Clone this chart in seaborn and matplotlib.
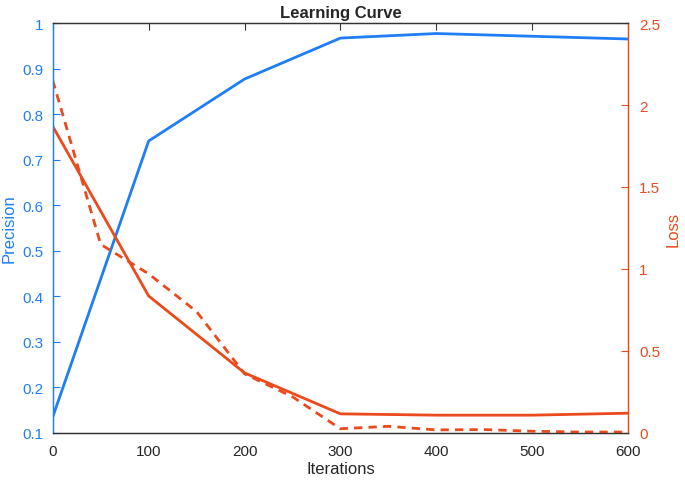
import numpy as np
import pandas as pd
import matplotlib
matplotlib.use('Agg')
import matplotlib.pyplot as plt
import seaborn as sns

# Data
iters = [0, 100, 200, 300, 400, 500, 600]
precision = [0.135, 0.741, 0.877, 0.967, 0.977, 0.971, 0.965]
loss = [1.87, 0.835, 0.366, 0.116, 0.108, 0.108, 0.12]

iters_fine = [0, 50, 100, 150, 200, 250, 300, 350, 400, 450, 500, 550, 600]
loss_fine = [2.15, 1.15, 0.97, 0.74, 0.36, 0.22, 0.025, 0.04, 0.018, 0.02, 0.01, 0.005, 0.005]

blue = '#1f7ef5'
red = '#ea4a1c'

sns.set_style("white")
plt.rcParams['font.family'] = ['Liberation Sans', 'DejaVu Sans']
plt.rcParams['xtick.direction'] = 'in'
plt.rcParams['ytick.direction'] = 'in'

df = pd.DataFrame({'iter': iters, 'precision': precision, 'loss': loss})
df_fine = pd.DataFrame({'iter': iters_fine, 'loss': loss_fine})

fig, ax = plt.subplots(figsize=(6.85, 4.81), dpi=100)
fig.subplots_adjust(left=0.077, right=0.917, top=0.95, bottom=0.098)

sns.lineplot(data=df, x='iter', y='precision', color=blue, linewidth=2, ax=ax)
ax.set_xlim(0, 600)
ax.set_ylim(0.1, 1)
ax.set_xticks(range(0, 601, 100))
ax.set_yticks(np.arange(0.1, 1.01, 0.1))
ax.set_yticklabels(['0.1', '0.2', '0.3', '0.4', '0.5', '0.6', '0.7', '0.8', '0.9', '1'])
ax.set_xlabel('Iterations', fontsize=12, labelpad=2)
ax.set_ylabel('Precision', fontsize=12, color=blue, labelpad=4)
ax.tick_params(axis='y', colors=blue, labelsize=11, length=5, pad=7)
ax.tick_params(axis='x', labelsize=11, length=5, top=True, color='#333333', pad=8)
ax.set_title('Learning Curve', fontsize=12, fontweight='bold', pad=4)

ax2 = ax.twinx()
sns.lineplot(data=df, x='iter', y='loss', color=red, linewidth=2, ax=ax2)
sns.lineplot(data=df_fine, x='iter', y='loss', color=red, linewidth=2, ax=ax2)
ax2.lines[-1].set_dashes((3, 2.2))
ax2.set_ylim(0, 2.5)
ax2.set_yticks([0, 0.5, 1, 1.5, 2, 2.5])
ax2.set_yticklabels(['0', '0.5', '1', '1.5', '2', '2.5'])
ax2.set_ylabel('Loss', fontsize=12, color=red, labelpad=4)
ax2.tick_params(axis='y', colors=red, labelsize=11, length=5, pad=8)

for a in (ax, ax2):
    a.spines['left'].set_color(blue)
    a.spines['right'].set_color(red)
    a.spines['top'].set_color('#333333')
    a.spines['bottom'].set_color('#333333')
    for s in a.spines.values():
        s.set_linewidth(0.9)

fig.savefig('out.png', dpi=100)
